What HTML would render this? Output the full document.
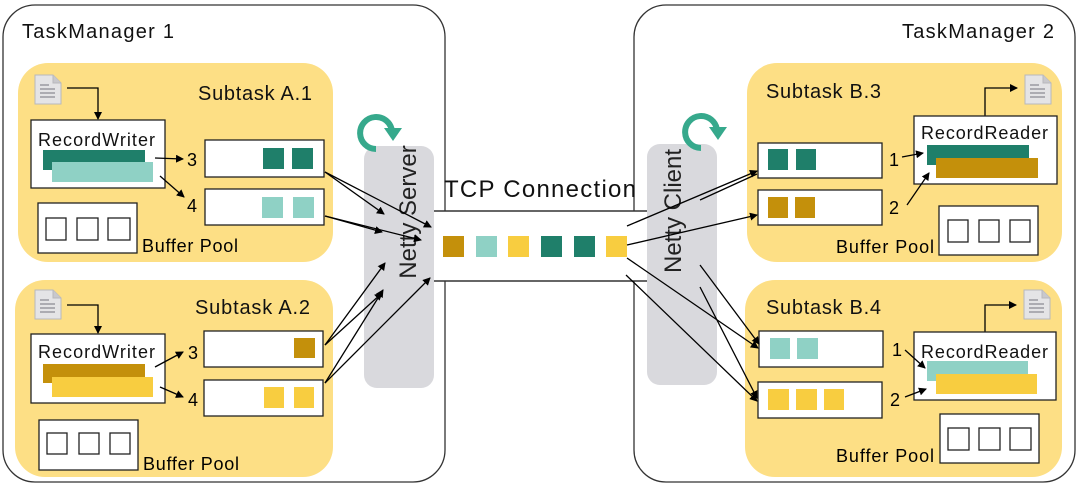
<!DOCTYPE html>
<html><head><meta charset="utf-8"><style>
html,body{margin:0;padding:0;background:#fff;}
svg{display:block;font-family:"Liberation Sans",sans-serif;}
</style></head><body>
<svg width="1080" height="487" viewBox="0 0 1080 487" xmlns="http://www.w3.org/2000/svg">
<defs>
<marker id="ah" markerWidth="8" markerHeight="8" refX="7" refY="4" orient="auto" markerUnits="userSpaceOnUse"><path d="M0,0 L8,4 L0,8 z" fill="#000"/></marker>
<g id="doc"><path d="M0,0 H18 L26,8 V29 H0 Z" fill="#e4e4e6" stroke="#b8b8bc" stroke-width="1"/><path d="M18,0 V8 H26" fill="#c8c8cc" stroke="#b8b8bc"/><g stroke="#9a9aa0" stroke-width="1.5"><line x1="5" y1="10" x2="14" y2="10"/><line x1="5" y1="14" x2="20" y2="14"/><line x1="5" y1="18" x2="20" y2="18"/><line x1="5" y1="22" x2="20" y2="22"/></g></g>
</defs>
<rect x="3" y="5" width="442" height="477" rx="32" fill="#fff" stroke="#333" stroke-width="1.3"/>
<rect x="634" y="5" width="441" height="477" rx="32" fill="#fff" stroke="#333" stroke-width="1.3"/>
<text x="22" y="38" font-size="20" fill="#111" textLength="152">TaskManager 1</text>
<text x="902" y="38" font-size="20" fill="#111" textLength="152">TaskManager 2</text>

<rect x="434" y="211" width="214" height="70" fill="#fff"/>
<line x1="434" y1="211" x2="648" y2="211" stroke="#333" stroke-width="1.5"/>
<line x1="434" y1="281" x2="648" y2="281" stroke="#333" stroke-width="1.5"/>
<text x="444" y="197" font-size="24" fill="#111" textLength="192">TCP Connection</text>
<rect x="443" y="236" width="21" height="21" fill="#c4900b"/>
<rect x="476" y="236" width="21" height="21" fill="#8fd1c5"/>
<rect x="508" y="236" width="21" height="21" fill="#f8cd40"/>
<rect x="541" y="236" width="21" height="21" fill="#1f7f6a"/>
<rect x="574" y="236" width="21" height="21" fill="#1f7f6a"/>
<rect x="606" y="236" width="21" height="21" fill="#f8cd40"/>

<rect x="364" y="146" width="70" height="242" rx="13" fill="#d9d9dd"/>
<rect x="647" y="144" width="70" height="241" rx="13" fill="#d9d9dd"/>
<text transform="translate(416,212) rotate(-90)" font-size="24" fill="#222" text-anchor="middle">Netty Server</text>
<text transform="translate(681,211) rotate(-90)" font-size="24" fill="#222" text-anchor="middle">Netty Client</text>
<g fill="none" stroke="#36a98c" stroke-width="6">
<path d="M392,131 A16,16 0 1 0 376,149"/>
<path d="M717,130 A16,16 0 1 0 701,148"/>
</g>
<path d="M384,128 L402,128 L393,141 Z" fill="#36a98c"/>
<path d="M709,127 L727,127 L718,140 Z" fill="#36a98c"/>

<rect x="18" y="63" width="315" height="199" rx="30" fill="#fddf85"/>
<text x="198" y="100" font-size="20" fill="#111" textLength="114">Subtask A.1</text>
<use href="#doc" x="35" y="75"/>
<polyline points="67,88 98,88 98,119" fill="none" stroke="#000" stroke-width="1.3" marker-end="url(#ah)"/>
<rect x="31" y="120" width="134" height="68" fill="#fff" stroke="#222" stroke-width="1.3"/>
<text x="38" y="146" font-size="18" fill="#111" textLength="117">RecordWriter</text>
<rect x="43" y="150" width="102" height="20" fill="#1f7f6a"/>
<rect x="52" y="162" width="101" height="20" fill="#8fd1c5"/>
<line x1="155" y1="158" x2="183" y2="159" stroke="#000" stroke-width="1.3" marker-end="url(#ah)"/>
<text x="187" y="166" font-size="18">3</text>
<line x1="160" y1="176" x2="184" y2="197" stroke="#000" stroke-width="1.3" marker-end="url(#ah)"/>
<text x="187" y="212" font-size="18">4</text>
<rect x="205" y="140" width="119" height="37" fill="#fff" stroke="#222" stroke-width="1.3"/>
<rect x="263" y="148" width="21" height="21" fill="#1f7f6a"/><rect x="292" y="148" width="21" height="21" fill="#1f7f6a"/>
<rect x="205" y="189" width="119" height="36" fill="#fff" stroke="#222" stroke-width="1.3"/>
<rect x="262" y="197" width="21" height="21" fill="#8fd1c5"/><rect x="293" y="197" width="21" height="21" fill="#8fd1c5"/>
<rect x="38" y="203" width="99" height="50" fill="#fff" stroke="#222" stroke-width="1.3"/>
<g fill="#fff" stroke="#222" stroke-width="1.3"><rect x="46" y="218" width="20" height="22"/><rect x="77" y="218" width="21" height="22"/><rect x="108" y="218" width="22" height="22"/></g>
<text x="142" y="252" font-size="18" textLength="96">Buffer Pool</text>

<rect x="15" y="280" width="318" height="197" rx="30" fill="#fddf85"/>
<text x="195" y="314" font-size="20" fill="#111" textLength="115">Subtask A.2</text>
<use href="#doc" x="35" y="290"/>
<polyline points="67,305 98,305 98,333" fill="none" stroke="#000" stroke-width="1.3" marker-end="url(#ah)"/>
<rect x="31" y="334" width="134" height="69" fill="#fff" stroke="#222" stroke-width="1.3"/>
<text x="38" y="358" font-size="18" fill="#111" textLength="117">RecordWriter</text>
<rect x="43" y="364" width="102" height="19" fill="#c4900b"/>
<rect x="52" y="377" width="101" height="20" fill="#f8cd40"/>
<line x1="155" y1="367" x2="183" y2="352" stroke="#000" stroke-width="1.3" marker-end="url(#ah)"/>
<text x="188" y="359" font-size="18">3</text>
<line x1="160" y1="387" x2="183" y2="397" stroke="#000" stroke-width="1.3" marker-end="url(#ah)"/>
<text x="188" y="406" font-size="18">4</text>
<rect x="204" y="331" width="119" height="36" fill="#fff" stroke="#222" stroke-width="1.3"/>
<rect x="294" y="338" width="21" height="20" fill="#c4900b"/>
<rect x="204" y="380" width="119" height="36" fill="#fff" stroke="#222" stroke-width="1.3"/>
<rect x="264" y="387" width="20" height="21" fill="#f8cd40"/><rect x="294" y="387" width="20" height="21" fill="#f8cd40"/>
<rect x="39" y="420" width="99" height="50" fill="#fff" stroke="#222" stroke-width="1.3"/>
<g fill="#fff" stroke="#222" stroke-width="1.3"><rect x="47" y="433" width="20" height="21"/><rect x="79" y="433" width="20" height="21"/><rect x="110" y="433" width="20" height="21"/></g>
<text x="143" y="470" font-size="18" textLength="96">Buffer Pool</text>

<rect x="747" y="63" width="315" height="199" rx="30" fill="#fddf85"/>
<text x="766" y="98" font-size="20" fill="#111" textLength="115">Subtask B.3</text>
<use href="#doc" x="1025" y="75"/>
<polyline points="985,116 985,88 1017,88" fill="none" stroke="#000" stroke-width="1.3" marker-end="url(#ah)"/>
<rect x="914" y="116" width="143" height="68" fill="#fff" stroke="#222" stroke-width="1.3"/>
<text x="921" y="139" font-size="18" fill="#111" textLength="127">RecordReader</text>
<rect x="927" y="145" width="102" height="20" fill="#1f7f6a"/>
<rect x="936" y="158" width="102" height="20" fill="#c4900b"/>
<rect x="758" y="143" width="124" height="35" fill="#fff" stroke="#222" stroke-width="1.3"/>
<rect x="768" y="149" width="20" height="21" fill="#1f7f6a"/><rect x="796" y="149" width="20" height="21" fill="#1f7f6a"/>
<rect x="758" y="190" width="124" height="35" fill="#fff" stroke="#222" stroke-width="1.3"/>
<rect x="768" y="197" width="20" height="21" fill="#c4900b"/><rect x="795" y="197" width="20" height="21" fill="#c4900b"/>
<text x="889" y="166" font-size="18">1</text>
<text x="889" y="214" font-size="18">2</text>
<line x1="902" y1="157" x2="923" y2="153" stroke="#000" stroke-width="1.3" marker-end="url(#ah)"/>
<line x1="907" y1="205" x2="929" y2="173" stroke="#000" stroke-width="1.3" marker-end="url(#ah)"/>
<rect x="939" y="206" width="99" height="49" fill="#fff" stroke="#222" stroke-width="1.3"/>
<g fill="#fff" stroke="#222" stroke-width="1.3"><rect x="948" y="220" width="20" height="22"/><rect x="979" y="220" width="20" height="22"/><rect x="1010" y="220" width="20" height="22"/></g>
<text x="836" y="253" font-size="18" textLength="98">Buffer Pool</text>

<rect x="745" y="280" width="317" height="197" rx="30" fill="#fddf85"/>
<text x="766" y="314" font-size="20" fill="#111" textLength="115">Subtask B.4</text>
<use href="#doc" x="1024" y="290"/>
<polyline points="985,332 985,305 1016,305" fill="none" stroke="#000" stroke-width="1.3" marker-end="url(#ah)"/>
<rect x="914" y="332" width="142" height="68" fill="#fff" stroke="#222" stroke-width="1.3"/>
<text x="921" y="358" font-size="18" fill="#111" textLength="127">RecordReader</text>
<rect x="927" y="361" width="101" height="20" fill="#8fd1c5"/>
<rect x="936" y="374" width="101" height="20" fill="#f8cd40"/>
<rect x="759" y="331" width="124" height="36" fill="#fff" stroke="#222" stroke-width="1.3"/>
<rect x="770" y="338" width="20" height="21" fill="#8fd1c5"/><rect x="797" y="338" width="21" height="21" fill="#8fd1c5"/>
<rect x="758" y="382" width="124" height="36" fill="#fff" stroke="#222" stroke-width="1.3"/>
<rect x="768" y="389" width="21" height="21" fill="#f8cd40"/><rect x="796" y="389" width="21" height="21" fill="#f8cd40"/><rect x="824" y="389" width="20" height="21" fill="#f8cd40"/>
<text x="892" y="356" font-size="18">1</text>
<text x="890" y="406" font-size="18">2</text>
<line x1="905" y1="350" x2="925" y2="368" stroke="#000" stroke-width="1.3" marker-end="url(#ah)"/>
<line x1="905" y1="397" x2="926" y2="389" stroke="#000" stroke-width="1.3" marker-end="url(#ah)"/>
<rect x="940" y="414" width="99" height="49" fill="#fff" stroke="#222" stroke-width="1.3"/>
<g fill="#fff" stroke="#222" stroke-width="1.3"><rect x="948" y="428" width="21" height="22"/><rect x="979" y="428" width="21" height="22"/><rect x="1010" y="428" width="21" height="22"/></g>
<text x="836" y="462" font-size="18" textLength="98">Buffer Pool</text>

<g stroke="#000" stroke-width="1.3" fill="none" marker-end="url(#ah)">
<line x1="325" y1="172" x2="384" y2="214"/>
<line x1="325" y1="172" x2="431" y2="227"/>
<line x1="325" y1="216" x2="382" y2="232"/>
<line x1="325" y1="216" x2="421" y2="240"/>
<line x1="325" y1="345" x2="385" y2="263"/>
<line x1="325" y1="345" x2="382" y2="293"/>
<line x1="325" y1="383" x2="383" y2="290"/>
<line x1="325" y1="383" x2="430" y2="278"/>
<line x1="627" y1="226" x2="757" y2="171"/>
<line x1="627" y1="245" x2="757" y2="215"/>
<line x1="627" y1="258" x2="758" y2="348"/>
<line x1="626" y1="275" x2="757" y2="401"/>
<line x1="700" y1="265" x2="759" y2="344"/>
<line x1="700" y1="287" x2="757" y2="398"/>
</g>
<line x1="700" y1="200" x2="757" y2="174" stroke="#000" stroke-width="1.3"/>
</svg>
</body></html>
